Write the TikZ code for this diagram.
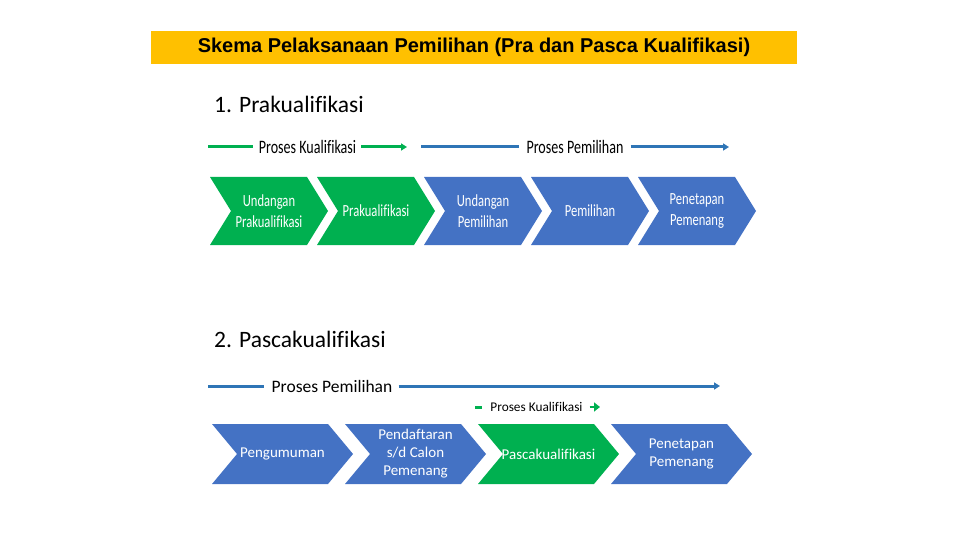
\documentclass[tikz,border=0pt]{standalone}
\usepackage{fontspec}
\setmainfont{Carlito}[Ligatures=NoCommon]
\newfontfamily\arialfont{Liberation Sans}
\newfontfamily\narrowfont[FakeStretch=0.74, Ligatures=NoCommon]{Carlito}
\usetikzlibrary{arrows.meta}
\definecolor{skema-yellow}{RGB}{255, 192, 0}
\definecolor{skema-green}{RGB}{0, 176, 80}
\definecolor{skema-blue}{RGB}{68, 114, 196}
\definecolor{skema-line}{RGB}{46, 117, 182}

\begin{document}
\begin{tikzpicture}[x = 1pt, y = -1pt,
    flow/.style = {line width=3pt},
    flowtip/.style = {line width=3pt, -{Triangle[length=6pt, width=7pt]}},
    flowlabel/.style = {inner sep=0pt, font=\narrowfont\fontsize{19}{22}\selectfont},
    chevtext/.style = {white, align=center, inner sep=0pt}]
          \useasboundingbox (0, 0) rectangle (960, 540);

          % title
          \node[fill=skema-yellow, minimum width=646pt, minimum height=33pt, inner sep=0pt,
            font=\arialfont\bfseries\fontsize{20}{24}\selectfont] (title) at (474, 47.5)
            {Skema Pelaksanaan Pemilihan (Pra dan Pasca Kualifikasi)};

          % 1. prakualifikasi
          \node[anchor=base west, inner sep=0pt, font=\fontsize{23.5}{28}\selectfont] (head1) at (214, 113) {1. Prakualifikasi};

          \coordinate (k1s) at (208, 147);
          \coordinate (k1e) at (407, 147);
          \coordinate (p1s) at (421, 147);
          \coordinate (p1e) at (729, 147);
          \node[flowlabel] (kual1) at (307.5, 147) {Proses Kualifikasi};
          \node[flowlabel] (pilih1) at (575, 147) {Proses Pemilihan};
          \draw[flow, skema-green] (k1s) -- ([xshift=-6pt]kual1.west);
          \draw[flowtip, skema-green] ([xshift=5pt]kual1.east) -- (k1e);
          \draw[flow, skema-line] (p1s) -- ([xshift=-7pt]pilih1.west);
          \draw[flowtip, skema-line] ([xshift=7pt]pilih1.east) -- (p1e);

          \foreach \x/\col/\txt [count=\i] in {210/skema-green/{Undangan\\Prakualifikasi},
              317/skema-green/Prakualifikasi, 424/skema-blue/{Undangan\\Pemilihan},
              531/skema-blue/Pemilihan, 638/skema-blue/{Penetapan\\Pemenang}} {
            \fill[\col] (\x, 177) -- ++(97, 0) -- ++(21, 34) -- ++(-21, 34) -- ++(-97, 0) -- ++(21, -34) -- cycle;
            \node[chevtext, font=\narrowfont\fontsize{17}{21}\selectfont] (pra\i) at (\x + 59, 211) {\txt};
          }

          % 2. pascakualifikasi
          \node[anchor=base west, inner sep=0pt, font=\fontsize{23.5}{28}\selectfont] (head2) at (214, 347) {2. Pascakualifikasi};

          \coordinate (p2s) at (208, 386);
          \coordinate (p2e) at (720, 386);
          \coordinate (k2s) at (475, 407);
          \coordinate (k2e) at (600, 407);
          \node[inner sep=0pt, font=\fontsize{17.5}{20}\selectfont] (pilih2) at (332, 386) {Proses Pemilihan};
          \node[inner sep=0pt, font=\fontsize{13.3}{16}\selectfont] (kual2) at (536.5, 407) {Proses Kualifikasi};
          \draw[flow, skema-line] (p2s) -- ([xshift=-7pt]pilih2.west);
          \draw[flowtip, skema-line] ([xshift=6pt]pilih2.east) -- (p2e);
          \draw[flow, skema-green] (k2s) -- ([xshift=-8pt]kual2.west);
          \draw[line width=2.5pt, skema-green, -{Triangle[length=6pt, width=9pt]}] ([xshift=7pt]kual2.east) -- (k2e);

          \foreach \x/\col/\txt [count=\i] in {212/skema-blue/Pengumuman,
              345/skema-blue/{Pendaftaran\\s/d Calon\\Pemenang}, 478/skema-green/Pascakualifikasi,
              611/skema-blue/{Penetapan\\Pemenang}} {
            \fill[\col] (\x, 424) -- ++(116, 0) -- ++(25, 30) -- ++(-25, 30) -- ++(-116, 0) -- ++(25, -30) -- cycle;
            \node[chevtext, font=\fontsize{15}{18}\selectfont] (pasca\i) at (\x + 70.5, 454) {\txt};
          }

        \end{tikzpicture}
\end{document}
